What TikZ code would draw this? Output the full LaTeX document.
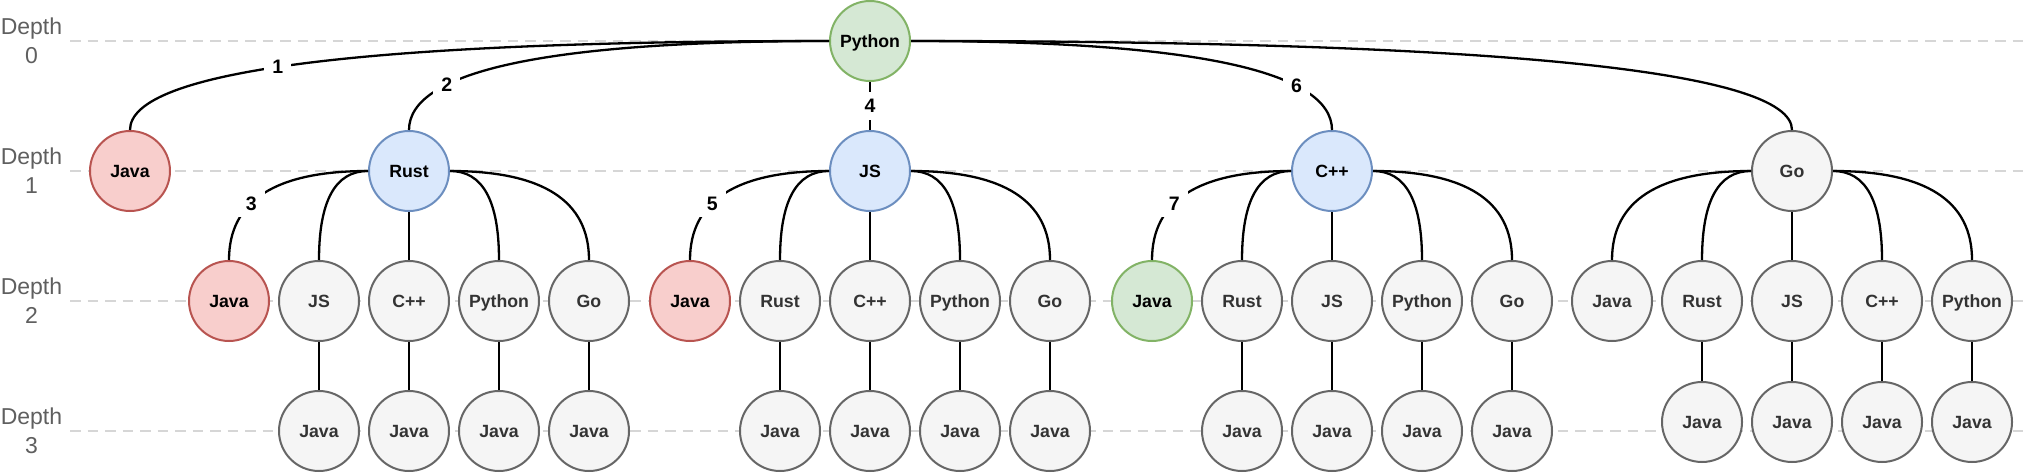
\documentclass[tikz,border=0pt]{standalone}
\usepackage{fontspec}
\setmainfont{Liberation Sans}
\usetikzlibrary{calc}
\definecolor{redfill}{HTML}{F8CECC}
\definecolor{redline}{HTML}{B85450}
\definecolor{bluefill}{HTML}{DAE8FC}
\definecolor{blueline}{HTML}{6C8EBF}
\definecolor{greenfill}{HTML}{D5E8D4}
\definecolor{greenline}{HTML}{82B366}
\definecolor{grayfill}{HTML}{F5F5F5}
\definecolor{grayline}{HTML}{666666}
\definecolor{graytext}{HTML}{333333}
\definecolor{guide}{HTML}{D6D6D6}
\definecolor{depthtext}{HTML}{5F5F5F}
\tikzset{
  lang/.style={circle, minimum size=80pt, inner sep=0pt, line width=2pt,
    text height=12.7pt, text depth=0pt,
    font=\bfseries\fontsize{17.7}{20}\selectfont},
  nred/.style={lang, draw=redline, fill=redfill, text=black},
  nblue/.style={lang, draw=blueline, fill=bluefill, text=black},
  ngreen/.style={lang, draw=greenline, fill=greenfill, text=black},
  ngray/.style={lang, draw=grayline, fill=grayfill, text=graytext},
  conn/.style={line width=2.3pt, black},
  lbl/.style={fill=white, inner xsep=8pt, inner ysep=7pt, text=black,
    text height=14pt, text depth=0pt,
    font=\bfseries\fontsize{19.5}{20}\selectfont},
  guideline/.style={draw=guide, line width=2.5pt, dash pattern=on 10.5pt off 7pt},
  depthlbl/.style={align=center, text=depthtext, inner sep=0pt,
    font=\fontsize{23}{29}\selectfont},
  curv/.style={to path={let \p1=(\tikztostart), \p2=(\tikztotarget) in
    .. controls ({\x1+0.6667*(\x2-\x1)},\y1) and (\x2,{\y2+0.6667*(\y1-\y2)}) .. (\tikztotarget) \tikztonodes}}
}
\begin{document}
\begin{tikzpicture}[x=1pt,y=-1pt]
\useasboundingbox (0,0) rectangle (2033,473);

% depth guides
\node[depthlbl] (d0) at (31.5,41) {Depth\\0};
\node[depthlbl] (d1) at (31.5,171) {Depth\\1};
\node[depthlbl] (d2) at (31.5,301) {Depth\\2};
\node[depthlbl] (d3) at (31.5,431) {Depth\\3};
\foreach \yy/\nm in {41/g0,171/g1,301/g2,431/g3}{
  \coordinate (\nm s) at (70,\yy);
  \coordinate (\nm e) at (2025,\yy);
  \draw[guideline] (\nm s) -- (\nm e);
}

% depth 0
\node[ngreen] (P) at (870,41) {Python};
% depth 1
\node[nred]  (J1) at (130,171) {Java};
\node[nblue] (R1) at (409,171) {Rust};
\node[nblue] (S1) at (870,171) {JS};
\node[nblue] (C1) at (1332,171) {C++};
\node[ngray] (G1) at (1792,171) {Go};

% Rust subtree
\node[nred]  (Ra) at (229,301) {Java};
\node[ngray] (Rb) at (319,301) {JS};
\node[ngray] (Rc) at (409,301) {C++};
\node[ngray] (Rd) at (499,301) {Python};
\node[ngray] (Re) at (589,301) {Go};
\foreach \c/\xx in {b/319,c/409,d/499,e/589}{
  \node[ngray] (R\c3) at (\xx,431) {Java};
  \draw[conn] (R\c.south) -- (R\c3.north);
}

% JS subtree
\node[nred]  (Sa) at (690,301) {Java};
\node[ngray] (Sb) at (780,301) {Rust};
\node[ngray] (Sc) at (870,301) {C++};
\node[ngray] (Sd) at (960,301) {Python};
\node[ngray] (Se) at (1050,301) {Go};
\foreach \c/\xx in {b/780,c/870,d/960,e/1050}{
  \node[ngray] (S\c3) at (\xx,431) {Java};
  \draw[conn] (S\c.south) -- (S\c3.north);
}

% C++ subtree
\node[ngreen] (Ca) at (1152,301) {Java};
\node[ngray]  (Cb) at (1242,301) {Rust};
\node[ngray]  (Cc) at (1332,301) {JS};
\node[ngray]  (Cd) at (1422,301) {Python};
\node[ngray]  (Ce) at (1512,301) {Go};
\foreach \c/\xx in {b/1242,c/1332,d/1422,e/1512}{
  \node[ngray] (C\c3) at (\xx,431) {Java};
  \draw[conn] (C\c.south) -- (C\c3.north);
}

% Go subtree
\node[ngray] (Ga) at (1612,301) {Java};
\node[ngray] (Gb) at (1702,301) {Rust};
\node[ngray] (Gc) at (1792,301) {JS};
\node[ngray] (Gd) at (1882,301) {C++};
\node[ngray] (Ge) at (1972,301) {Python};
\foreach \c/\xx in {b/1702,c/1792,d/1882,e/1972}{
  \node[ngray] (G\c3) at (\xx,422) {Java};
  \draw[conn] (G\c.south) -- (G\c3.north);
}

% edges from root
\draw[conn] (P.west) to[curv] node[lbl,pos=0.54]{1} (J1.north);
\draw[conn] (P.west) to[curv] node[lbl,pos=0.7]{2} (R1.north);
\draw[conn] (P.south) -- node[lbl]{4} (S1.north);
\draw[conn] (P.east) to[curv] node[lbl,pos=0.71]{6} (C1.north);
\draw[conn] (P.east) to[curv] (G1.north);

% edges depth 1 -> depth 2
\draw[conn] (R1.west) to[curv] node[lbl,pos=0.6]{3} (Ra.north);
\draw[conn] (R1.west) to[curv] (Rb.north);
\draw[conn] (R1.south) -- (Rc.north);
\draw[conn] (R1.east) to[curv] (Rd.north);
\draw[conn] (R1.east) to[curv] (Re.north);

\draw[conn] (S1.west) to[curv] node[lbl,pos=0.6]{5} (Sa.north);
\draw[conn] (S1.west) to[curv] (Sb.north);
\draw[conn] (S1.south) -- (Sc.north);
\draw[conn] (S1.east) to[curv] (Sd.north);
\draw[conn] (S1.east) to[curv] (Se.north);

\draw[conn] (C1.west) to[curv] node[lbl,pos=0.6]{7} (Ca.north);
\draw[conn] (C1.west) to[curv] (Cb.north);
\draw[conn] (C1.south) -- (Cc.north);
\draw[conn] (C1.east) to[curv] (Cd.north);
\draw[conn] (C1.east) to[curv] (Ce.north);

\draw[conn] (G1.west) to[curv] (Ga.north);
\draw[conn] (G1.west) to[curv] (Gb.north);
\draw[conn] (G1.south) -- (Gc.north);
\draw[conn] (G1.east) to[curv] (Gd.north);
\draw[conn] (G1.east) to[curv] (Ge.north);
\end{tikzpicture}
\end{document}
